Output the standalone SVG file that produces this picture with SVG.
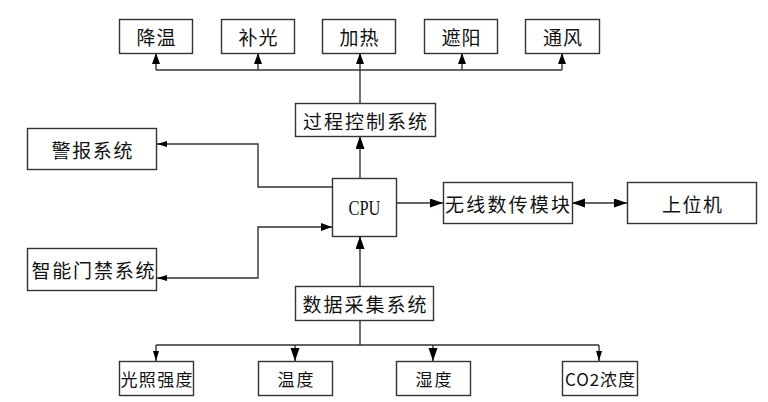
<svg xmlns="http://www.w3.org/2000/svg" width="768" height="402" viewBox="0 0 768 402">
<style>
.box{fill:#fff;stroke:#333;stroke-width:1.4}
.t{font-family:"Noto Sans CJK SC","Noto Sans",sans-serif;font-size:19px;fill:#111;text-anchor:middle;dominant-baseline:central}
.s{font-size:17px}
.cpu{font-family:"Liberation Serif",serif;font-size:20px;fill:#111;text-anchor:middle;dominant-baseline:central}
.ln{fill:none;stroke:#333;stroke-width:1.4}
</style>
<defs>
<marker id="big" markerUnits="userSpaceOnUse" markerWidth="14" markerHeight="10" refX="13" refY="4.5" orient="auto-start-reverse"><path d="M0,0 L13,4.5 L0,9 Z" fill="#000"/></marker>
<marker id="mid" markerUnits="userSpaceOnUse" markerWidth="12" markerHeight="9" refX="11" refY="4" orient="auto-start-reverse"><path d="M0,0 L11,4 L0,8 Z" fill="#000"/></marker>
<marker id="small" markerUnits="userSpaceOnUse" markerWidth="11" markerHeight="7" refX="10" refY="3" orient="auto-start-reverse"><path d="M0,0 L10,3 L0,6 Z" fill="#000"/></marker>
</defs>
<rect width="768" height="402" fill="#fff"/>
<g id="connectors">
<path class="ln" d="M156,70 H562"/>
<path class="ln" d="M360,103 V70"/>
<path class="ln" marker-end="url(#mid)" d="M156,70 V53"/>
<path class="ln" marker-end="url(#mid)" d="M258,70 V53"/>
<path class="ln" marker-end="url(#mid)" d="M360,70 V53"/>
<path class="ln" marker-end="url(#mid)" d="M462,70 V53"/>
<path class="ln" marker-end="url(#mid)" d="M562,70 V53"/>
<path class="ln" marker-end="url(#big)" d="M360,178 V136"/>
<path class="ln" marker-end="url(#small)" d="M332,187 H258 V144 H157"/>
<path class="ln" marker-start="url(#small)" marker-end="url(#mid)" d="M157,278 H258 V227 H332"/>
<path class="ln" marker-end="url(#big)" d="M397,203 H443"/>
<path class="ln" marker-start="url(#big)" marker-end="url(#big)" d="M572,203 H627"/>
<path class="ln" marker-end="url(#big)" d="M360,286 V236"/>
<path class="ln" d="M360,320 V345 M156,345 H599"/>
<path class="ln" marker-end="url(#small)" d="M156,345 V361"/>
<path class="ln" marker-end="url(#big)" d="M295,345 V361"/>
<path class="ln" marker-end="url(#big)" d="M433,345 V361"/>
<path class="ln" marker-end="url(#small)" d="M599,345 V361"/>
</g>
<g id="n_jiangwen"><rect class="box" x="119.5" y="19.5" width="73" height="34"/><text class="t" x="156" y="36.5" textLength="39">降温</text></g>
<g id="n_buguang"><rect class="box" x="221.5" y="19.5" width="73" height="34"/><text class="t" x="258" y="36.5" textLength="39">补光</text></g>
<g id="n_jiare"><rect class="box" x="322.5" y="19.5" width="73" height="34"/><text class="t" x="359" y="36.5" textLength="39">加热</text></g>
<g id="n_zheyang"><rect class="box" x="424.5" y="19.5" width="73" height="34"/><text class="t" x="461" y="36.5" textLength="39">遮阳</text></g>
<g id="n_tongfeng"><rect class="box" x="525.5" y="19.5" width="74" height="34"/><text class="t" x="562.5" y="36.5" textLength="39">通风</text></g>
<g id="n_process"><rect class="box" x="295.5" y="103.5" width="140" height="33"/><text class="t" x="365" y="120" textLength="124">过程控制系统</text></g>
<g id="n_alarm"><rect class="box" x="27.5" y="128.5" width="129" height="41"/><text class="t" x="92" y="149" textLength="81">警报系统</text></g>
<g id="n_door"><rect class="box" x="27.5" y="248.5" width="129" height="42"/><text class="t" x="93" y="269.5" textLength="123">智能门禁系统</text></g>
<g id="n_cpu"><rect class="box" x="332.5" y="178.5" width="64" height="58"/><text class="cpu" x="364.5" y="207.5" textLength="32" lengthAdjust="spacingAndGlyphs">CPU</text></g>
<g id="n_wireless"><rect class="box" x="443.5" y="182.5" width="129" height="41"/><text class="t" x="507.5" y="203" textLength="125">无线数传模块</text></g>
<g id="n_host"><rect class="box" x="627.5" y="182.5" width="129" height="41"/><text class="t" x="692" y="203" textLength="60">上位机</text></g>
<g id="n_acq"><rect class="box" x="295.5" y="286.5" width="138" height="34"/><text class="t" x="364.5" y="303.5" textLength="124">数据采集系统</text></g>
<g id="n_light"><rect class="box" x="119.5" y="361.5" width="74" height="34"/><text class="t s" x="156.5" y="378.5" textLength="72">光照强度</text></g>
<g id="n_temp"><rect class="box" x="258.5" y="361.5" width="74" height="34"/><text class="t s" x="295.5" y="378.5" textLength="36">温度</text></g>
<g id="n_hum"><rect class="box" x="396.5" y="361.5" width="74" height="34"/><text class="t s" x="433.5" y="378.5" textLength="36">湿度</text></g>
<g id="n_co2"><rect class="box" x="562.5" y="361.5" width="75" height="34"/><text class="t s" x="600" y="378.5" textLength="70">CO2浓度</text></g>
</svg>
